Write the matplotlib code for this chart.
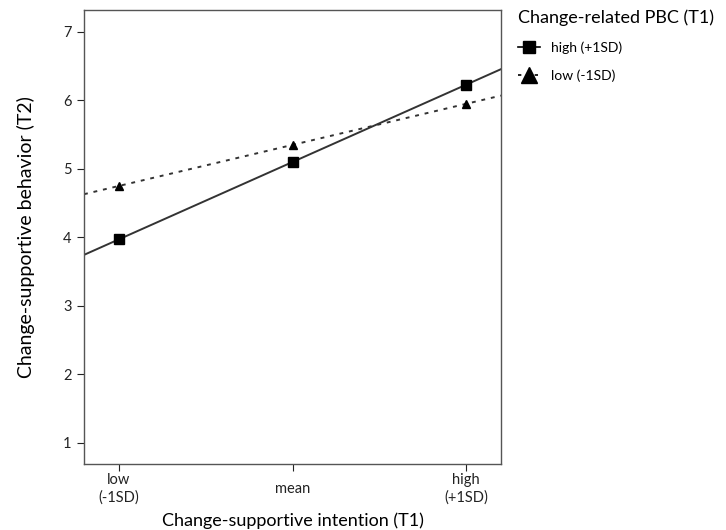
import numpy as np
import matplotlib.pyplot as plt

plt.rcParams['font.family'] = ['Lato', 'DejaVu Sans']

# Simple slopes: intention (T1) levels vs. behaviour (T2), by PBC level
x_levels = [-1, 0, 1]
tick_labels = ["low\n(-1SD)", "mean", "high\n(+1SD)"]
high_pbc = [3.97, 5.10, 6.23]
low_pbc = [4.75, 5.35, 5.95]
series_names = ["high (+1SD)", "low (-1SD)"]

fig = plt.figure(figsize=(7.26, 5.30), dpi=100)
ax = fig.add_axes([84 / 726, 66 / 530, 417 / 726, 454 / 530])

xlim = (-1.2, 1.2)
xx = np.array(xlim)

# regression lines run across the whole plot area
for vals, ls in [(high_pbc, '-'), (low_pbc, (0, (2, 3)))]:
    k, b = np.polyfit(x_levels, vals, 1)
    ax.plot(xx, k * xx + b, color='#333333', lw=1.4, ls=ls)

ax.plot(x_levels, high_pbc, 's', color='black', ms=7)
ax.plot(x_levels, low_pbc, '^', color='black', ms=6)

ax.set_xlim(*xlim)
ax.set_ylim(0.69, 7.32)
ax.set_yticks(range(1, 8))
ax.set_xticks(x_levels)
ax.set_xticklabels(tick_labels, fontsize=10.5, va='center', linespacing=1.35)
ax.tick_params(axis='x', length=5, pad=13, colors='#222222')
ax.tick_params(axis='y', length=5, pad=4, labelsize=10.5, colors='#222222')
for s in ax.spines.values():
    s.set_color('#555555')
    s.set_linewidth(1.0)

ax.set_xlabel("Change-supportive intention (T1)", fontsize=13, labelpad=5)
ax.set_ylabel("Change-supportive behavior (T2)", fontsize=14, labelpad=20)

# legend outside, to the right of the plot
h1, = ax.plot([], [], '-s', color='black', ms=9, lw=1.2)
h2, = ax.plot([], [], marker='^', ls=(0, (2, 3)), color='black', ms=12, lw=1.2)
leg = fig.legend([h1, h2], series_names, title="Change-related PBC (T1)",
                 loc='upper left', bbox_to_anchor=(505 / 726, 1 + 3 / 530),
                 frameon=False, fontsize=10, title_fontsize=13,
                 handlelength=1.6, handletextpad=0.8, labelspacing=1.1,
                 alignment='left')

fig.savefig("out.png", dpi=100)
